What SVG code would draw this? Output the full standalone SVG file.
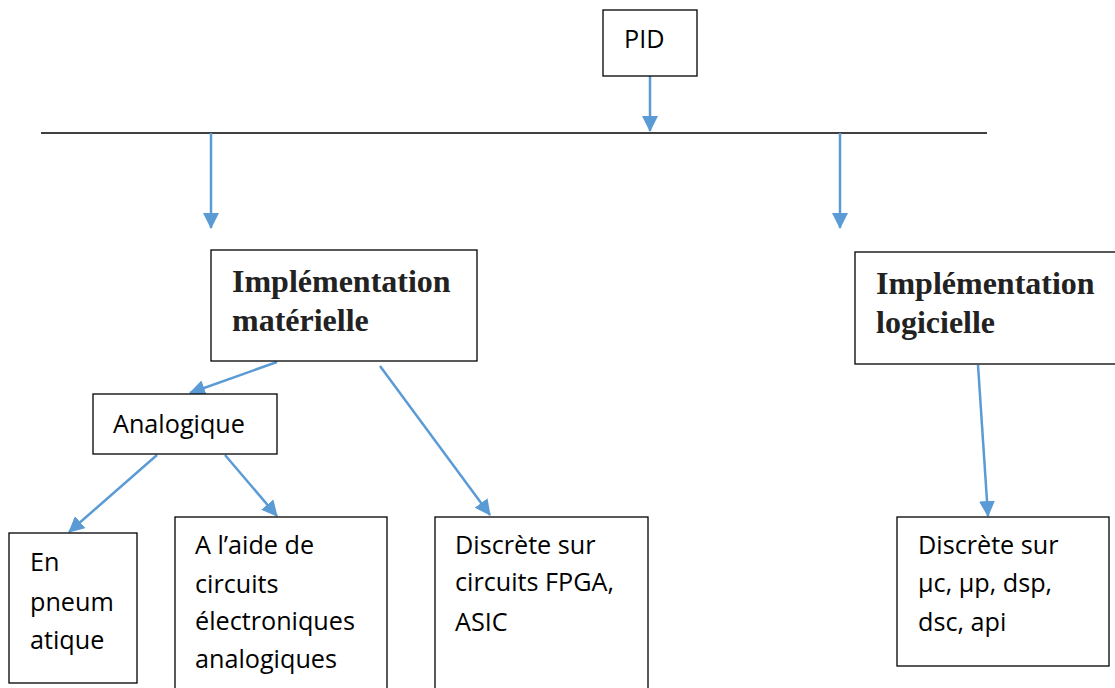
<svg xmlns="http://www.w3.org/2000/svg" width="1115" height="688" viewBox="0 0 1115 688">
<defs>
<marker id="ah" markerUnits="userSpaceOnUse" markerWidth="16" markerHeight="16" viewBox="0 0 16 16" refX="15" refY="8" orient="auto">
<path d="M0,0 L16,8 L0,16 Z" fill="#5b9bd5"/>
</marker>
<style>
.box{fill:#fff;stroke:#000;stroke-width:1.3}
.t{font-family:"Open Sans","Liberation Sans",sans-serif;font-size:25.2px;fill:#000}
.b{font-family:"Liberation Serif","Times New Roman",serif;font-size:32px;font-weight:bold;fill:#222}
.c{stroke:#5b9bd5;stroke-width:2.5;fill:none;marker-end:url(#ah)}
</style>
</defs>
<rect width="1115" height="688" fill="#fff"/>
<g id="connectors">
<line x1="41" y1="133" x2="987" y2="133" stroke="#000" stroke-width="1.3"/>
<line class="c" x1="650" y1="76" x2="650" y2="131"/>
<line class="c" x1="211" y1="133" x2="211" y2="228"/>
<line class="c" x1="840" y1="133" x2="840" y2="228"/>
<line class="c" x1="277" y1="362" x2="190" y2="393"/>
<line class="c" x1="380" y1="366" x2="490" y2="515"/>
<line class="c" x1="157" y1="455" x2="69" y2="532"/>
<line class="c" x1="225" y1="455" x2="277" y2="516"/>
<line class="c" x1="978" y1="365" x2="988" y2="516"/>
</g>
<g id="pid"><rect class="box" x="603" y="10" width="94" height="66"/><text class="t" x="624" y="48">PID</text></g>
<g id="materielle"><rect class="box" x="211" y="250" width="266" height="111"/>
<text class="b" x="232" y="292">Implémentation</text><text class="b" x="232" y="331">matérielle</text></g>
<g id="logicielle"><rect class="box" x="855" y="252" width="262" height="112"/>
<text class="b" x="876" y="294">Implémentation</text><text class="b" x="876" y="333">logicielle</text></g>
<g id="analogique"><rect class="box" x="93" y="394" width="184" height="60"/><text class="t" x="113" y="433">Analogique</text></g>
<g id="pneumatique"><rect class="box" x="9" y="533" width="128" height="150"/>
<text class="t" x="30" y="571">En</text><text class="t" x="30" y="611">pneum</text><text class="t" x="30" y="649">atique</text></g>
<g id="electroniques"><rect class="box" x="175" y="517" width="212" height="180"/>
<text class="t" x="195" y="554">A l’aide de</text><text class="t" x="195" y="593">circuits</text><text class="t" x="195" y="630">électroniques</text><text class="t" x="195" y="668">analogiques</text></g>
<g id="fpga"><rect class="box" x="435" y="517" width="213" height="180"/>
<text class="t" x="455" y="554">Discrète sur</text><text class="t" x="455" y="591">circuits FPGA,</text><text class="t" x="455" y="631">ASIC</text></g>
<g id="micro"><rect class="box" x="897" y="517" width="212" height="149"/>
<text class="t" x="918" y="554">Discrète sur</text><text class="t" x="918" y="592">µc, µp, dsp,</text><text class="t" x="918" y="631">dsc, api</text></g>
</svg>
